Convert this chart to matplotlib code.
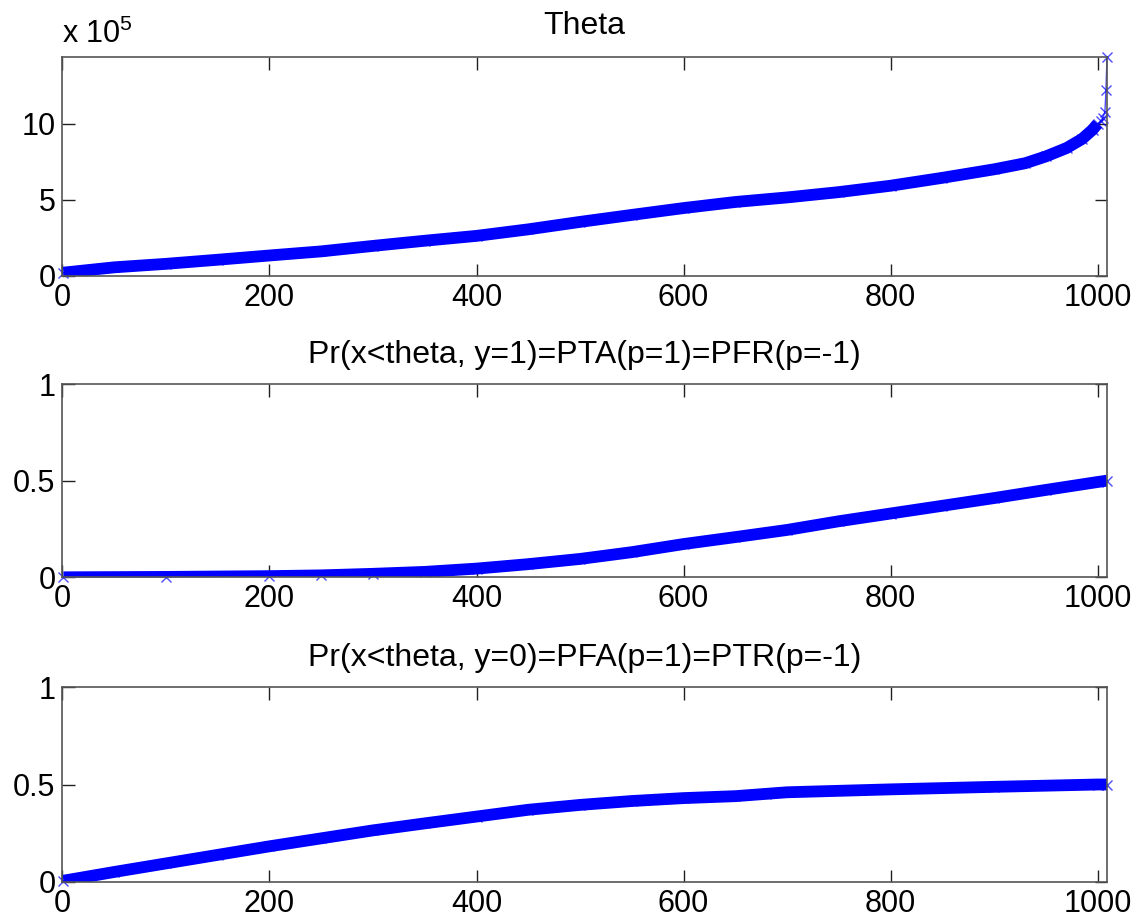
import numpy as np
import matplotlib.pyplot as plt
from matplotlib.ticker import FuncFormatter

plt.rcParams['font.family'] = ['Liberation Sans', 'DejaVu Sans']
plt.rcParams['mathtext.fontset'] = 'custom'
plt.rcParams['mathtext.rm'] = 'Liberation Sans'

# sample index (at a few points)
theta_x = [1, 50, 100, 150, 200, 250, 300, 350, 400, 450, 500, 550, 600, 650,
           700, 750, 800, 850, 900, 930, 950, 970, 985, 995, 1000, 1003, 1005,
           1007, 1008, 1009]
theta_y = [0.2e5, 0.55e5, 0.78e5, 1.05e5, 1.33e5, 1.6e5, 1.96e5, 2.3e5, 2.62e5,
           3.05e5, 3.54e5, 4.0e5, 4.45e5, 4.85e5, 5.15e5, 5.5e5, 5.92e5, 6.44e5,
           7.0e5, 7.4e5, 7.85e5, 8.4e5, 9.0e5, 9.6e5, 10.0e5, 10.2e5, 10.4e5,
           10.8e5, 12.2e5, 14.37e5]

pta_x = [1, 100, 200, 250, 300, 350, 400, 450, 500, 550, 600, 650, 700, 750,
         800, 850, 900, 950, 1000, 1009]
pta_y = [0.0, 0.002, 0.006, 0.01, 0.018, 0.028, 0.045, 0.068, 0.095, 0.13, 0.172,
         0.208, 0.245, 0.29, 0.33, 0.37, 0.41, 0.452, 0.493, 0.5]

pfa_x = [1, 50, 100, 150, 200, 250, 300, 350, 400, 450, 500, 550, 600, 650,
         680, 700, 800, 900, 1000, 1009]
pfa_y = [0.005, 0.05, 0.094, 0.138, 0.182, 0.223, 0.264, 0.3, 0.335, 0.37,
         0.395, 0.415, 0.43, 0.44, 0.452, 0.46, 0.475, 0.488, 0.5, 0.5]

titles = ['Theta',
          'Pr(x<theta, y=1)=PTA(p=1)=PFR(p=-1)',
          'Pr(x<theta, y=0)=PFA(p=1)=PTR(p=-1)']

W, H = 1139, 923
fig = plt.figure(figsize=(W / 100, H / 100), dpi=100)

# axes boxes in pixels: (left, top, right, bottom)
boxes = [(62.4, 57.3, 1107, 275.7), (62.4, 384, 1107, 577.3), (62.4, 687.3, 1107, 881.7)]
series = [(theta_x, theta_y), (pta_x, pta_y), (pfa_x, pfa_y)]
blue = (0, 0, 1)

for i, ((l, t, r, b), (xs, ys)) in enumerate(zip(boxes, series)):
    ax = fig.add_axes([l / W, 1 - b / H, (r - l) / W, (b - t) / H])
    xs = np.array(xs)
    ys = np.array(ys)
    band = xs <= (1000 if i == 0 else 1009)
    ax.plot(xs[band], ys[band], '-', color=blue, lw=8.5, solid_capstyle='butt')
    ax.plot(xs, ys, '-x', color=blue, lw=1, ms=7, mew=1, alpha=0.7, clip_on=False)
    ax.set_xlim(0, 1009)
    ax.set_xticks([0, 200, 400, 600, 800, 1000])
    if i == 0:
        ax.set_ylim(0, max(theta_y))
        ax.set_yticks([0, 5e5, 10e5])
        ax.yaxis.set_major_formatter(FuncFormatter(lambda v, p: '%d' % round(v / 1e5)))
        ax.text(0, 1.035, r'x 10$^{5}$', transform=ax.transAxes, fontsize=22,
                ha='left', va='bottom')
    else:
        ax.set_ylim(0, 1)
        ax.set_yticks([0, 0.5, 1])
        ax.set_yticklabels(['0', '0.5', '1'])
    ax.set_title(titles[i], fontsize=23, pad=17 if i == 0 else 15)
    ax.tick_params(direction='in', length=9, width=1, labelsize=22, pad=5,
                   top=True, right=True, color='#202020')
    for s in ax.spines.values():
        s.set_color('#555555')
        s.set_linewidth(1.2)

fig.savefig('out.png', dpi=100)
